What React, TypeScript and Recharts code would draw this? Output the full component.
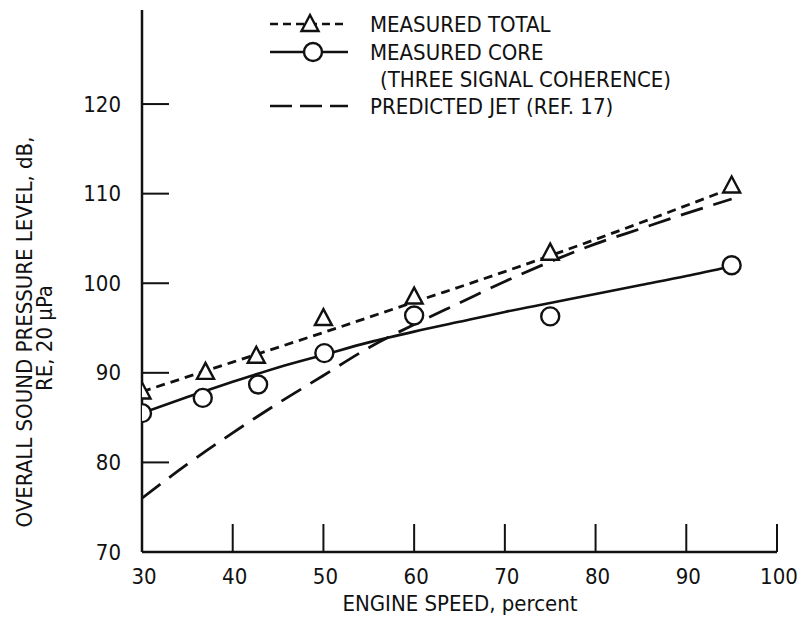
import {
  ComposedChart,
  Line,
  Scatter,
  XAxis,
  YAxis,
} from "recharts";

// engine speed ticks / level ticks
const xTicks = [30, 40, 50, 60, 70, 80, 90, 100];
const yTicks = [70, 80, 90, 100, 110, 120];

// measured points (open symbols)
const totalSpeed = [30, 37, 42.6, 50, 60, 75, 95];
const totalLevel = [87.8, 90.0, 91.8, 96.0, 98.4, 103.3, 110.8];
const coreSpeed = [30, 36.7, 42.8, 50.1, 60, 75, 95];
const coreLevel = [85.5, 87.2, 88.7, 92.2, 96.4, 96.3, 102.0];

// faired curves
const totalFitSpeed = [30, 40, 50, 60, 70, 80, 95];
const totalFitLevel = [87.9, 91.2, 94.5, 97.9, 101.3, 104.9, 110.6];
const coreFitSpeed = [30, 35, 40, 45, 50, 55, 60, 65, 70, 75, 80, 85, 90, 95];
const coreFitLevel = [85.5, 87.3, 89.0, 90.6, 92.0, 93.4, 94.6, 95.7, 96.8, 97.8, 98.8, 99.8, 100.8, 101.9];
const jetFitSpeed = [30, 35, 40, 45, 50, 55, 60, 65, 70, 75, 80, 85, 90, 95];
const jetFitLevel = [76.0, 79.8, 83.3, 86.6, 89.7, 92.8, 95.4, 97.8, 100.2, 102.4, 104.4, 106.1, 107.8, 109.4];

const zip = (xs: number[], ys: number[]) => xs.map((x, i) => ({ x, y: ys[i] }));

const totalPts = zip(totalSpeed, totalLevel);
const corePts = zip(coreSpeed, coreLevel);
const totalFit = zip(totalFitSpeed, totalFitLevel);
const coreFit = zip(coreFitSpeed, coreFitLevel);
const jetFit = zip(jetFitSpeed, jetFitLevel);

const FONT = "'Liberation Sans Narrow', 'DejaVu Sans Condensed', 'Arial Narrow', sans-serif";
const INK = "#111";
const W = 799;
const H = 620;
const PL = 142; // plot left
const PB = 552; // plot bottom

function Triangle({ cx, cy }: any) {
  return (
    <path
      d={`M${cx},${cy - 10} L${cx + 8.5},${cy + 6} L${cx - 8.5},${cy + 6} Z`}
      fill="#fff"
      stroke={INK}
      strokeWidth={2.4}
    />
  );
}

function Circle({ cx, cy }: any) {
  return <circle cx={cx} cy={cy} r={9} fill="#fff" stroke={INK} strokeWidth={2.4} />;
}

function YTick({ y, payload }: any) {
  return (
    <g>
      {payload.value !== 70 && (
        <line x1={PL} x2={PL + 27} y1={y} y2={y} stroke={INK} strokeWidth={2} />
      )}
      <text x={PL - 21} y={y} textAnchor="end" dominantBaseline="central" fontFamily={FONT} fontSize={22} fill={INK}>
        {payload.value}
      </text>
    </g>
  );
}

function XTick({ x, payload }: any) {
  return (
    <g>
      {payload.value !== 30 && (
        <line x1={x} x2={x} y1={PB} y2={PB - 28} stroke={INK} strokeWidth={2} />
      )}
      <text x={x + 2} y={PB + 24} textAnchor="middle" dominantBaseline="central" fontFamily={FONT} fontSize={22} fill={INK}>
        {payload.value}
      </text>
    </g>
  );
}

function YLabel() {
  return (
    <g fontFamily={FONT} fontSize={22} fill={INK}>
      <text transform="translate(24,332) rotate(-90)" textAnchor="middle" dominantBaseline="central">
        OVERALL SOUND PRESSURE LEVEL, dB,
      </text>
      <text transform="translate(44,338) rotate(-90)" textAnchor="middle" dominantBaseline="central">
        RE, 20 µPa
      </text>
    </g>
  );
}

function XLabel() {
  return (
    <text x={460} y={603} textAnchor="middle" dominantBaseline="central" fontFamily={FONT} fontSize={22} fill={INK}>
      ENGINE SPEED, percent
    </text>
  );
}

function LegendBox() {
  const t = { fontFamily: FONT, fontSize: 22, fill: INK, dominantBaseline: "central" as const };
  return (
    <svg width={430} height={112} style={{ position: "absolute", left: 270, top: 12 }}>
      <line x1={0} x2={78} y1={12} y2={12} stroke={INK} strokeWidth={2.6} strokeDasharray="8 5" />
      <Triangle cx={40} cy={13} />
      <text x={100} y={12} {...t}>MEASURED TOTAL</text>

      <line x1={0} x2={78} y1={40} y2={40} stroke={INK} strokeWidth={2.6} />
      <Circle cx={43} cy={40} />
      <text x={100} y={40} {...t}>MEASURED CORE</text>
      <text x={110} y={67} {...t}>(THREE SIGNAL COHERENCE)</text>

      <line x1={0} x2={78} y1={94} y2={94} stroke={INK} strokeWidth={2.6} strokeDasharray="22 8" />
      <text x={100} y={94} {...t}>PREDICTED JET (REF. 17)</text>
    </svg>
  );
}

export default function App() {
  return (
    <div style={{ position: "absolute", left: 0, top: 0, width: W, height: H, background: "#fff" }}>
      <ComposedChart width={W} height={H} margin={{ top: 10, right: 22, bottom: 28, left: 82 }}>
        <XAxis
          type="number"
          dataKey="x"
          domain={[30, 100]}
          ticks={xTicks}
          height={40}
          stroke={INK}
          strokeWidth={2.5}
          tickLine={false}
          tick={<XTick />}
          interval={0}
          allowDataOverflow
          label={{ content: <XLabel /> }}
        />
        <YAxis
          type="number"
          dataKey="y"
          domain={[70, 130.5]}
          ticks={yTicks}
          width={60}
          stroke={INK}
          strokeWidth={2.5}
          tickLine={false}
          tick={<YTick />}
          interval={0}
          allowDataOverflow
          label={{ content: <YLabel /> }}
        />
        <Line data={jetFit} dataKey="y" type="monotone" stroke={INK} strokeWidth={2.8} strokeDasharray="23 11" dot={false} isAnimationActive={false} />
        <Line data={totalFit} dataKey="y" type="monotone" stroke={INK} strokeWidth={2.8} strokeDasharray="9 6" dot={false} isAnimationActive={false} />
        <Line data={coreFit} dataKey="y" type="monotone" stroke={INK} strokeWidth={2.6} dot={false} isAnimationActive={false} />
        <Scatter data={totalPts} dataKey="y" shape={<Triangle />} isAnimationActive={false} />
        <Scatter data={corePts} dataKey="y" shape={<Circle />} isAnimationActive={false} />
      </ComposedChart>
      <LegendBox />
    </div>
  );
}
